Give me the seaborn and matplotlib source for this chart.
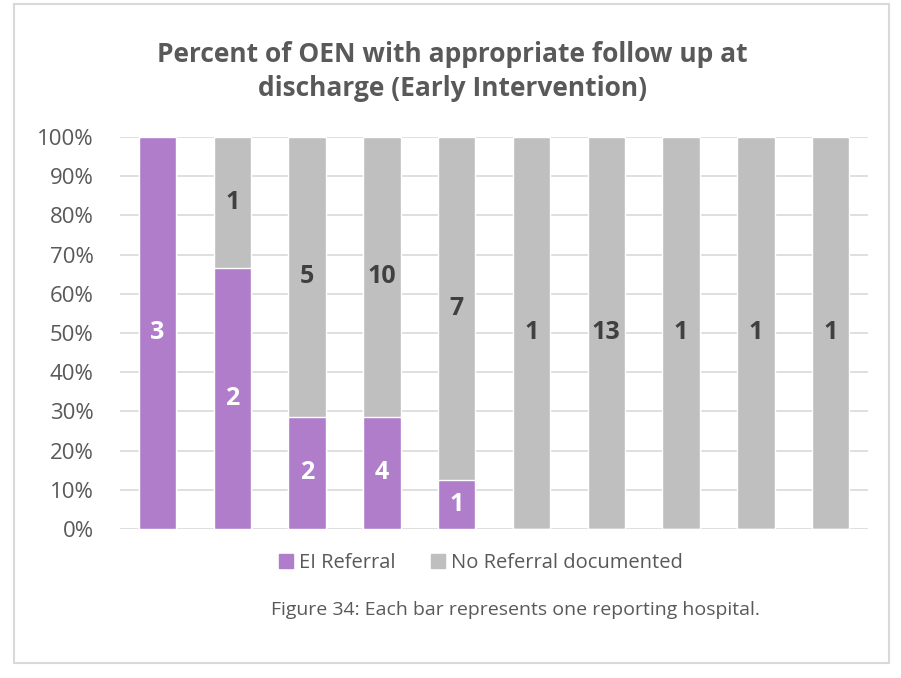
import numpy as np
import pandas as pd
import matplotlib.pyplot as plt
import seaborn as sns
from matplotlib.patches import Rectangle

# Data: counts per reporting hospital
hospitals = [f"H{i}" for i in range(1, 11)]
ei_referral = [3, 2, 2, 4, 1, 0, 0, 0, 0, 0]
no_referral = [0, 1, 5, 10, 7, 1, 13, 1, 1, 1]

purple = "#B07DCB"
gray = "#BFBFBF"
text_col = "#595959"

ei = np.array(ei_referral, dtype=float)
no = np.array(no_referral, dtype=float)
total = ei + no
df = pd.DataFrame({
    "hospital": hospitals,
    "ei_pct": ei / total * 100,
    "total_pct": total / total * 100,
})

sns.set_style("white")
plt.rcParams['font.family'] = ['Open Sans', 'DejaVu Sans']

fig = plt.figure(figsize=(9.01, 6.78), dpi=100)
ax = fig.add_axes([0.1332, 0.2198, 0.8302, 0.5782])

# gray = whole bar, purple drawn over it from 0
sns.barplot(data=df, x="hospital", y="total_pct", color=gray, width=0.5,
            saturation=1, ax=ax, zorder=3)
sns.barplot(data=df, x="hospital", y="ei_pct", color=purple, width=0.5,
            saturation=1, ax=ax, zorder=3)

# segment labels
for i in range(len(hospitals)):
    p = df["ei_pct"].iloc[i]
    if ei[i] > 0:
        ax.text(i, p / 2, f"{int(ei[i])}", ha="center", va="center",
                color="white", fontsize=18, fontweight="bold", zorder=5)
    if no[i] > 0:
        ax.text(i, (p + 100) / 2, f"{int(no[i])}", ha="center", va="center",
                color="#404040", fontsize=18, fontweight="bold", zorder=5)

ax.set_ylim(0, 100)
ax.set_xlim(-0.5, len(hospitals) - 0.5)
ax.set_yticks(np.arange(0, 101, 10))
ax.set_yticklabels([f"{v}%" for v in range(0, 101, 10)], fontsize=16, color=text_col)
ax.set_xticks([])
ax.set_xlabel("")
ax.set_ylabel("")
ax.tick_params(axis="y", length=0, pad=19)
ax.yaxis.grid(True, color="#D9D9D9", linewidth=1.2, zorder=0)
ax.set_axisbelow(True)
for s in ax.spines.values():
    s.set_visible(False)

fig.text(0.502, 0.895, "Percent of OEN with appropriate follow up at\ndischarge (Early Intervention)",
         ha="center", va="center", fontsize=19, fontweight="bold", color=text_col,
         linespacing=1.35)

# legend
handles = [Rectangle((0, 0), 1, 1, color=purple), Rectangle((0, 0), 1, 1, color=gray)]
fig.legend(handles, ["EI Referral", "No Referral documented"], loc="center",
           bbox_to_anchor=(0.534, 0.169), ncol=2, frameon=False, fontsize=14.5,
           handlelength=0.7, handleheight=0.7, handletextpad=0.3, columnspacing=1.75,
           labelcolor=text_col)

fig.text(0.572, 0.1, "Figure 34: Each bar represents one reporting hospital.",
         ha="center", va="center", fontsize=14, color=text_col)

# outer border
fig.patches.append(Rectangle((0.016, 0.022), 0.971, 0.972, transform=fig.transFigure,
                             fill=False, edgecolor="#D9D9D9", linewidth=1.5))

fig.savefig("out.png", dpi=100)
